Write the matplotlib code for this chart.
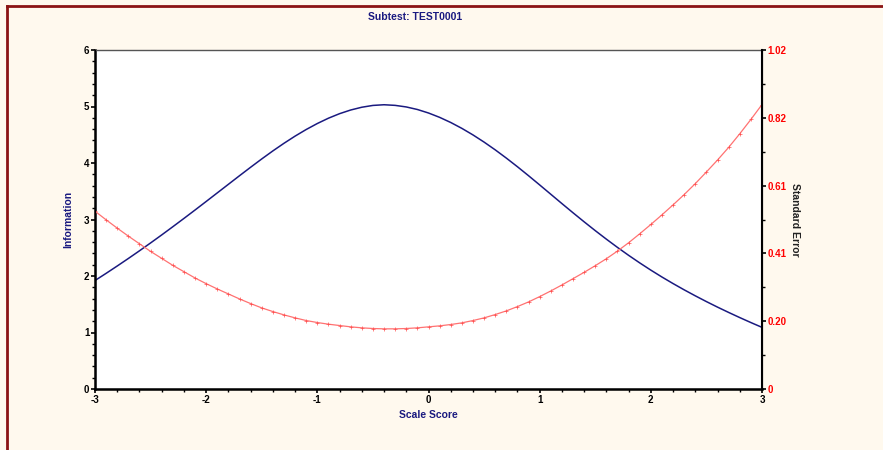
import numpy as np
import matplotlib.pyplot as plt
from matplotlib.lines import Line2D
from matplotlib.ticker import MultipleLocator, FixedLocator

plt.rcParams['axes.unicode_minus'] = False

# scale score grid (step 0.1) shared by both curves
theta = np.round(np.arange(-3.0, 3.01, 0.1), 2)
info = [1.920, 2.047, 2.177, 2.310, 2.446, 2.585, 2.727, 2.872, 3.019, 3.168,
        3.319, 3.471, 3.623, 3.775, 3.925, 4.072, 4.214, 4.349, 4.476, 4.593,
        4.699, 4.793, 4.873, 4.938, 4.987, 5.019, 5.031, 5.020, 4.992, 4.947,
        4.885, 4.808, 4.717, 4.613, 4.497, 4.370, 4.233, 4.087, 3.934, 3.775,
        3.612, 3.447, 3.282, 3.119, 2.959, 2.803, 2.652, 2.506, 2.366, 2.232,
        2.104, 1.982, 1.866, 1.755, 1.649, 1.547, 1.449, 1.355, 1.264, 1.176,
        1.091]
se = [0.535, 0.509, 0.484, 0.460, 0.437, 0.414, 0.393, 0.372, 0.353, 0.334,
      0.317, 0.301, 0.286, 0.271, 0.257, 0.244, 0.233, 0.223, 0.214, 0.206,
      0.200, 0.195, 0.191, 0.187, 0.184, 0.182, 0.181, 0.181, 0.182, 0.184,
      0.187, 0.190, 0.194, 0.199, 0.206, 0.214, 0.224, 0.235, 0.248, 0.262,
      0.278, 0.295, 0.313, 0.332, 0.351, 0.371, 0.392, 0.415, 0.440, 0.467,
      0.495, 0.524, 0.554, 0.585, 0.618, 0.653, 0.689, 0.727, 0.768, 0.811,
      0.856]

se_ticks = [0, 0.204, 0.408, 0.612, 0.816, 1.02]
se_labels = ['0', '0.20', '0.41', '0.61', '0.82', '1.02']
title = 'Subtest: TEST0001'

navy = '#1a1a80'
red = '#ff7272'
fnt = ['Liberation Sans Narrow', 'Liberation Sans', 'DejaVu Sans']

fig = plt.figure(figsize=(8.83, 4.5), dpi=100, facecolor='#fff9ee')
ax = fig.add_axes([95/883, 1-389/450, (762-95)/883, (389-50)/450])
ax.set_facecolor('white')

ax.plot(theta, info, color=navy, lw=1.1)
ax.set_xlim(-3, 3)
ax.set_ylim(0, 6)
ax.xaxis.set_major_locator(MultipleLocator(1))
ax.xaxis.set_minor_locator(MultipleLocator(0.2))
ax.yaxis.set_major_locator(MultipleLocator(1))
ax.yaxis.set_minor_locator(MultipleLocator(0.2))
ax.tick_params(which='major', length=3, width=1.2, labelsize=7, pad=1)
ax.tick_params(which='minor', length=2, width=1.0)
for lab in ax.get_xticklabels() + ax.get_yticklabels():
    lab.set_fontweight('bold')
    lab.set_family(fnt)
ax.spines['left'].set_linewidth(1.8)
ax.spines['bottom'].set_linewidth(1.8)
ax.spines['top'].set_linewidth(1.0)
ax.spines['top'].set_color('#555555')
ax.set_xlabel('Scale Score', color=navy, fontsize=7.5, fontweight='bold', family=fnt, labelpad=4)
ax.set_ylabel('Information', color=navy, fontsize=7.5, fontweight='bold', family=fnt, labelpad=8)

ax2 = ax.twinx()
ax2.plot(theta, se, color=red, lw=0.9, marker='+', ms=2.2, mew=0.5,
         mec='#ff5050')
ax2.set_ylim(0, 1.02)
ax2.yaxis.set_major_locator(FixedLocator(se_ticks))
ax2.set_yticklabels(se_labels)
ax2.yaxis.set_minor_locator(FixedLocator([0.102, 0.306, 0.51, 0.714, 0.918]))
ax2.tick_params(which='major', length=3, width=1.2, labelsize=7, pad=1, labelcolor='red')
ax2.tick_params(which='minor', length=2, width=1.0)
for lab in ax2.get_yticklabels():
    lab.set_fontweight('bold')
    lab.set_family(fnt)
ax2.spines['right'].set_linewidth(1.5)
ax2.spines['top'].set_visible(False)
ax2.set_ylabel('Standard Error', color='#222222', fontsize=7.5, fontweight='bold',
               family=fnt, rotation=-90, labelpad=10)

fig.text(415/883, 1-17/450, title, color=navy, fontsize=7.5, fontweight='bold',
         family=fnt, ha='center', va='center')

# dark red frame on top and left edge
fig.add_artist(Line2D([6.5/883, 6.5/883], [0, 1-5.5/450], transform=fig.transFigure,
                      color='#8b1414', lw=2))
fig.add_artist(Line2D([6.5/883, 1], [1-5.5/450, 1-5.5/450], transform=fig.transFigure,
                      color='#8b1414', lw=2))

fig.savefig('out.png', dpi=100, facecolor=fig.get_facecolor())
